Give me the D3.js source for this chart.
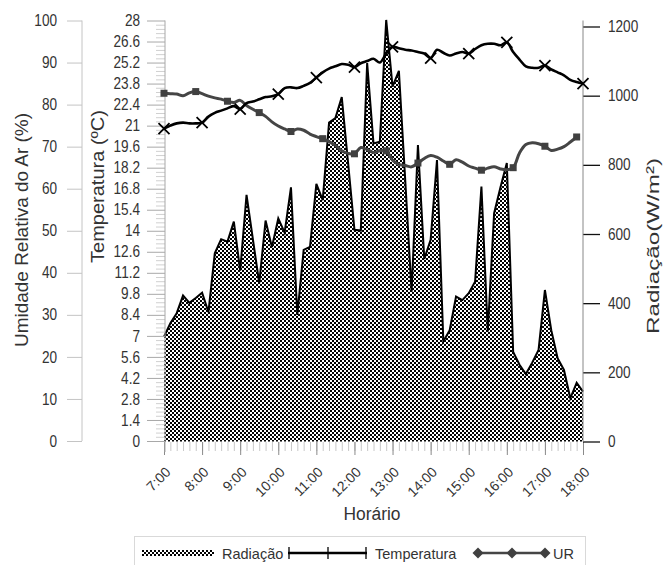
<!DOCTYPE html>
<html><head><meta charset="utf-8">
<script src="https://cdn.jsdelivr.net/npm/d3@7"></script>
<style>
body{margin:0;background:#fff}
svg{display:block}
text{font-family:"Liberation Sans",Arial,sans-serif;fill:#333}
</style>
</head><body>
<svg id="c" width="664" height="565"></svg>
<script>
// ---------- DATA ----------
const hourLabels = ["7:00","8:00","9:00","10:00","11:00","12:00","13:00","14:00","15:00","16:00","17:00","18:00"];
const hourMinutes = [420,480,540,600,660,720,780,840,900,960,1020,1080];
// observation times (minutes after midnight), every 10 min from 7:00 to 18:00
const times = d3.range(420, 1081, 10);
const radiacao = [303,342,371,422,401,415,430,374,544,585,578,636,494,713,585,458,639,562,645,604,
  735,366,554,563,745,698,922,935,996,805,612,610,1094,862,867,1219,1026,1072,755,433,
  857,528,583,814,289,322,419,409,429,462,737,318,660,735,805,259,222,195,228,265,
  438,322,241,207,125,170,144];
const temperatura = [20.8,21.0,21.15,21.2,21.15,21.15,21.2,21.6,21.85,22.0,22.15,22.3,22.1,22.5,22.6,22.75,22.9,22.95,23.1,23.5,
  23.55,23.5,23.65,23.85,24.2,24.55,24.8,24.95,25.1,25.05,24.9,25.15,25.3,25.45,25.2,25.8,26.25,26.15,26.05,26.0,
  25.9,25.8,25.5,26.05,25.85,25.67,25.8,25.9,25.8,26.1,26.35,26.45,26.45,26.35,26.55,25.9,25.4,24.95,24.85,24.85,
  25.0,24.75,24.55,24.35,24.05,23.9,23.8];
const ur = [82.7,82.6,82.5,82.1,82.8,83.1,82.6,82.0,81.6,81.3,80.8,80.5,81.0,79.8,78.9,78.1,77.2,75.9,74.9,74.2,
  73.6,74.2,73.9,73.0,72.4,71.9,71.2,70.3,69.0,68.4,68.3,69.8,69.3,68.6,69.0,69.0,66.8,65.8,65.5,65.2,
  66.1,67.2,67.9,67.5,66.6,65.8,66.9,66.3,65.4,64.9,64.4,64.9,65.2,64.7,64.5,65.0,68.5,70.5,70.9,70.7,
  70.1,69.1,69.4,70.0,71.1,72.3];
const urTicks = [0,10,20,30,40,50,60,70,80,90,100];
const tempTicks = [0,1.4,2.8,4.2,5.6,7,8.4,9.8,11.2,12.6,14,15.4,16.8,18.2,19.6,21,22.4,23.8,25.2,26.6,28];
const radTicks = [0,200,400,600,800,1000,1200];
const seriesNames = ["Radiação","Temperatura","UR"];

// ---------- LAYOUT ----------
const svg = d3.select("#c");
const X0 = 164, X1 = 583, TOP = 20.5, BASE = 441;
const x = d3.scaleLinear().domain([420,1080]).range([X0,X1]);
const yRad = d3.scaleLinear().domain([0,1200]).range([441.5,26.5]);
const yTemp = d3.scaleLinear().domain([0,28]).range([BASE,TOP]);
const yUR = d3.scaleLinear().domain([0,100]).range([BASE,TOP]);

const defs = svg.append("defs");
const pat = defs.append("pattern").attr("id","chk").attr("width",4).attr("height",4)
  .attr("patternUnits","userSpaceOnUse");
pat.append("rect").attr("width",4).attr("height",4).attr("fill","#fff");
pat.append("rect").attr("width",2).attr("height",2).attr("fill","#000");
pat.append("rect").attr("x",2).attr("y",2).attr("width",2).attr("height",2).attr("fill","#000");

const SX = 0.85;
function squeeze(sel){
  sel.selectAll(".tick text").each(function(){
    const t = d3.select(this);
    const xx = +t.attr("x") || 0;
    t.attr("x", xx/SX).attr("transform", `scale(${SX},1)`);
  });
}

// ---------- RADIATION AREA ----------
const rad = times.map((t,i)=>({t, v:radiacao[i]}));
svg.append("path").datum(rad)
  .attr("d", d3.area().x(d=>x(d.t)).y0(yRad(0)).y1(d=>yRad(d.v)))
  .attr("fill","url(#chk)");
svg.append("path").datum(rad)
  .attr("d", d3.line().x(d=>x(d.t)).y(d=>yRad(d.v)))
  .attr("fill","none").attr("stroke","#000").attr("stroke-width",2).attr("stroke-linejoin","miter");

// ---------- X AXIS ----------
const gx = svg.append("g").attr("transform",`translate(0,${BASE+1})`);
gx.call(d3.axisBottom(x).tickValues(times).tickSize(9).tickFormat(""))
  .call(g=>g.select(".domain").remove())
  .call(g=>g.selectAll(".tick line").attr("stroke","#c8c8c8"));
const gx2 = svg.append("g").attr("transform",`translate(0,${BASE+1})`);
gx2.call(d3.axisBottom(x).tickValues(hourMinutes).tickSize(13).tickFormat((d,i)=>hourLabels[i]))
  .call(g=>g.select(".domain").remove())
  .call(g=>g.selectAll(".tick line").attr("stroke","#8a8a8a"))
  .call(g=>g.selectAll(".tick text")
     .attr("y",0).attr("dy",null).attr("text-anchor","end")
     .attr("transform","translate(7,31) rotate(-45)")
     .attr("font-size",14).attr("fill","#333"));

// ---------- UR AXIS (far left) ----------
const gUR = svg.append("g").attr("transform","translate(82,0)");
gUR.call(d3.axisLeft(yUR).tickValues(d3.range(5,100,10)).tickSize(8).tickFormat(""))
  .call(g=>g.select(".domain").remove());
gUR.call(d3.axisLeft(yUR).tickValues(urTicks).tickSize(15).tickPadding(10).tickFormat(d3.format("d")))
  .call(g=>g.select(".domain").remove());
gUR.selectAll(".tick line").attr("stroke","#c4c4c4");
gUR.selectAll(".tick text").attr("font-size",16).attr("fill","#333");
squeeze(gUR);
gUR.append("line").attr("y1",TOP).attr("y2",BASE).attr("stroke","#c4c4c4");

// ---------- TEMPERATURE AXIS ----------
const gT = svg.append("g").attr("transform","translate(165,0)");
const tMinor = d3.range(0,28.01,0.28).filter((d,i)=>i%5!==0);
gT.call(d3.axisLeft(yTemp).tickValues(tMinor).tickSize(9).tickFormat(""))
  .call(g=>g.select(".domain").remove())
  .call(g=>g.selectAll(".tick line").attr("stroke","#d0d0d0"));
const gT2 = svg.append("g").attr("transform","translate(165,0)");
gT2.call(d3.axisLeft(yTemp).tickValues(tempTicks).tickSize(18).tickPadding(7).tickFormat((d,i)=>String(tempTicks[i])))
  .call(g=>g.select(".domain").remove())
  .call(g=>g.selectAll(".tick line").attr("stroke","#a8a8a8"));
gT2.selectAll(".tick text").attr("font-size",16).attr("fill","#333");
squeeze(gT2);
gT2.append("line").attr("y1",TOP).attr("y2",452).attr("stroke","#a8a8a8");

// ---------- RADIATION AXIS (right) ----------
const gR = svg.append("g").attr("transform","translate(583,0)");
gR.call(d3.axisRight(yRad).tickValues(d3.range(0,1201,40)).tickSize(9).tickFormat(""))
  .call(g=>g.select(".domain").remove());
gR.call(d3.axisRight(yRad).tickValues(radTicks).tickSize(17).tickPadding(8).tickFormat(d3.format("d")))
  .call(g=>g.select(".domain").remove());
gR.selectAll(".tick line").attr("stroke","#111").attr("stroke-width",1.3);
gR.selectAll(".tick text").attr("font-size",16).attr("fill","#333");
squeeze(gR);
gR.append("line").attr("y1",TOP).attr("y2",441.5).attr("stroke","#888");

// ---------- UR LINE ----------
const urD = ur.map((v,i)=>({t:times[i], v}));
svg.append("path").datum(urD)
  .attr("d", d3.line().x(d=>x(d.t)).y(d=>yUR(d.v)).curve(d3.curveCatmullRom.alpha(0.5)))
  .attr("fill","none").attr("stroke","#454545").attr("stroke-width",3);
svg.selectAll(".urm").data(urD.filter((d,i)=>i%5===0)).join("rect").attr("class","urm")
  .attr("x",d=>x(d.t)-3.5).attr("y",d=>yUR(d.v)-3.5).attr("width",7).attr("height",7)
  .attr("fill","#404040");

// ---------- TEMPERATURE LINE ----------
const tD = temperatura.map((v,i)=>({t:times[i], v}));
svg.append("path").datum(tD)
  .attr("d", d3.line().x(d=>x(d.t)).y(d=>yTemp(d.v)).curve(d3.curveCatmullRom.alpha(0.5)))
  .attr("fill","none").attr("stroke","#000").attr("stroke-width",2.6);
svg.selectAll(".tm").data(tD.filter((d,i)=>i%6===0)).join("path").attr("class","tm")
  .attr("d",d=>{const cx=x(d.t), cy=yTemp(d.v), s=5.5;
     return `M${cx-s},${cy-s}L${cx+s},${cy+s}M${cx-s},${cy+s}L${cx+s},${cy-s}`;})
  .attr("stroke","#000").attr("stroke-width",1.8).attr("fill","none");

// ---------- TITLES ----------
function title(txt, x0, yc, len, size, rot){
  svg.append("text").attr("transform",`translate(${x0},${yc})${rot?" rotate(-90)":""}`)
    .attr("text-anchor","middle").attr("font-size",size)
    .attr("textLength",len).attr("lengthAdjust","spacingAndGlyphs")
    .attr("fill","#333").text(txt);
}
title("Umidade Relativa do Ar (%)", 27.5, 230, 234, 18, true);
title("Temperatura (ºC)", 104, 186.5, 153, 18, true);
title("Radiação(W/m²)", 659, 246, 176, 17, true);
title("Horário", 372, 520, 57, 18, false);

// ---------- LEGEND ----------
const lg = svg.append("g");
lg.append("rect").attr("x",134.5).attr("y",536.5).attr("width",451).attr("height",40)
  .attr("fill","none").attr("stroke","#d9d9d9");
lg.append("rect").attr("x",142).attr("y",550).attr("width",72).attr("height",6).attr("fill","url(#chk)");
lg.append("text").attr("x",222).attr("y",559).attr("font-size",14.5).text(seriesNames[0]);
lg.append("line").attr("x1",288).attr("x2",367).attr("y1",553).attr("y2",553).attr("stroke","#000").attr("stroke-width",2.4);
[289,328,366].forEach(px=>lg.append("line").attr("x1",px).attr("x2",px).attr("y1",547).attr("y2",559).attr("stroke","#000").attr("stroke-width",1.3));
lg.append("text").attr("x",375).attr("y",559).attr("font-size",14.5).text(seriesNames[1]);
lg.append("line").attr("x1",475).attr("x2",546).attr("y1",553).attr("y2",553).attr("stroke","#454545").attr("stroke-width",2.6);
[478,512,545].forEach(px=>lg.append("path").attr("d",`M${px},547.5L${px+5.5},553L${px},558.5L${px-5.5},553Z`).attr("fill","#404040"));
lg.append("text").attr("x",553).attr("y",559).attr("font-size",14.5).text(seriesNames[2]);
</script>
</body></html>
